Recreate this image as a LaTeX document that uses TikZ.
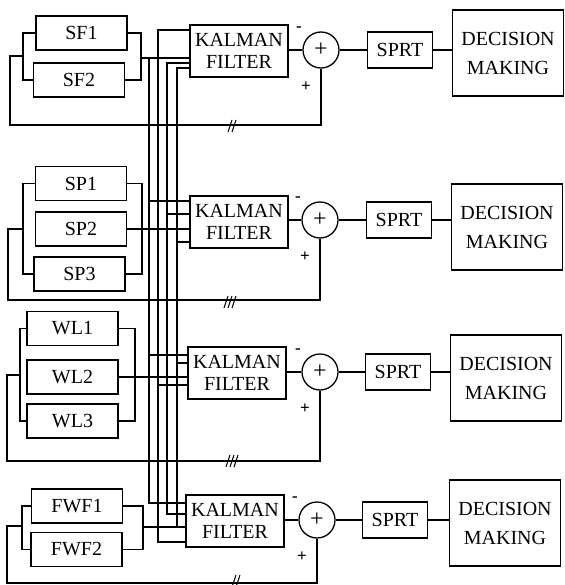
\documentclass[tikz,border=0pt]{standalone}
\usepackage{fontspec}
\setmainfont{Liberation Serif}
\tikzset{
  box/.style={draw, inner sep=0pt, font=\fontsize{20}{22}\selectfont},
  sensor/.style={box, minimum width=91pt, minimum height=34pt},
  kalman/.style={box, align=center, minimum width=98pt, minimum height=52pt},
  sumnode/.style={box, circle, minimum size=36pt, font=\fontsize{24}{24}\selectfont},
  sprtbox/.style={box, minimum width=65pt, minimum height=36pt},
  decision/.style={box, align=center, minimum width=111pt, minimum height=86pt,
    font=\fontsize{20}{29}\selectfont},
  sign/.style={inner sep=0pt, font=\bfseries\fontsize{17}{17}\selectfont}
}
\begin{document}
\begin{tikzpicture}[x=1pt, y=-1pt, line width=1.3pt]
\useasboundingbox (0,0) rectangle (564,585);
% sensors
\node[sensor] (SF1) at (81.5,33) {SF1};
\node[sensor] (SF2) at (79,80) {SF2};
\node[sensor] (SP1) at (81,183.5) {SP1};
\node[sensor] (SP2) at (81,229) {SP2};
\node[sensor] (SP3) at (79.5,274) {SP3};
\node[sensor] (WL1) at (72.5,328.5) {WL1};
\node[sensor] (WL2) at (72.5,377) {WL2};
\node[sensor] (WL3) at (72.5,421) {WL3};
\node[sensor] (FWF1) at (77,506) {FWF1};
\node[sensor] (FWF2) at (76.5,549.5) {FWF2};
% filter, sum, test and decision of each row
\foreach \r/\kx/\ky/\cx/\cy/\px/\dx/\dy in {1/239/51/321/50/400/508/53,
    2/239/222/320/220/399/507/227, 3/237/373/320/372/398/506/378,
    4/235/521/317/520/395/505/523}{
  \node[kalman] (KF\r) at (\kx,\ky) {KALMAN\\FILTER};
  \node[sumnode] (S\r) at (\cx,\cy) {+};
  \node[sprtbox] (SPRT\r) at (\px,\cy) {SPRT};
  \node[decision] (DM\r) at (\dx,\dy) {DECISION\\MAKING};
  \node[sign] (m\r) at ([shift={(-22,-21)}]S\r.center) {-};
  \node[sign] (p\r) at ([shift={(-15,37)}]S\r.center) {+};
  \draw (KF\r.east |- S\r.west) -- (S\r.west);
  \draw (S\r.east) -- (SPRT\r.west);
  \draw (SPRT\r.east) -- (SPRT\r.east -| DM\r.west);
}
% sensor outputs
\coordinate (out1) at (141,58);
\coordinate (out4) at (143,527);
\draw (SF1.east) -| (out1) |- (SF2.east);
\draw (out1) -- (out1 -| KF1.west);
\draw (SP1.east) -| (142,229) |- (SP3.east);
\draw (SP2.east) -- (SP2.east -| KF2.west);
\draw (WL1.east) -| (135,377) |- (WL3.east);
\draw (WL2.east) -- (WL2.east -| KF3.west);
\draw (FWF1.east) -| (out4) |- (FWF2.east);
\draw (out4) -- (out4 -| KF4.west);
% buses between the rows
\draw (149,58) -- (149,503) -- (KF4.west |- 0,503);
\draw (KF1.west |- 0,30) -| (158,542) -- (KF4.west |- 0,542);
\draw (KF1.west |- 0,63) -| (167,514) -- (KF4.west |- 0,514);
\draw (KF1.west |- 0,68) -| (177,527);
\foreach \bx/\by/\k in {149/201/2, 149/355/3, 158/385/3, 167/214/2, 177/242/2, 177/363/3}
  \draw (\bx,\by) -- (KF\k.west |- 0,\by);
% feedback to the sums
\coordinate (fb1) at (23,56);
\coordinate (fb2) at (23,229);
\coordinate (fb3) at (20,375);
\coordinate (fb4) at (22,526);
\draw (SF1.west) -| (fb1) |- (SF2.west);
\draw (SP1.west) -| (fb2) |- (SP3.west);
\draw (WL1.west) -| (fb3) |- (WL3.west);
\draw (FWF1.west) -| (fb4) |- (FWF2.west);
\draw (fb1) -| (10,125) -| (S1.south);
\draw (fb2) -| (8,300) -| (S2.south);
\draw (fb3) -| (7,461) -| (S3.south);
\draw (fb4) -| (7,583) -| (S4.south);
\foreach \tx/\ty/\n in {226/126/2, 222/302/3, 224/461/3, 230/581/2}
  \foreach \k in {1,...,\n}
    \draw[line width=1pt] ({\tx+4*\k+2},{\ty-6}) -- ++(-4,12);
\end{tikzpicture}
\end{document}
